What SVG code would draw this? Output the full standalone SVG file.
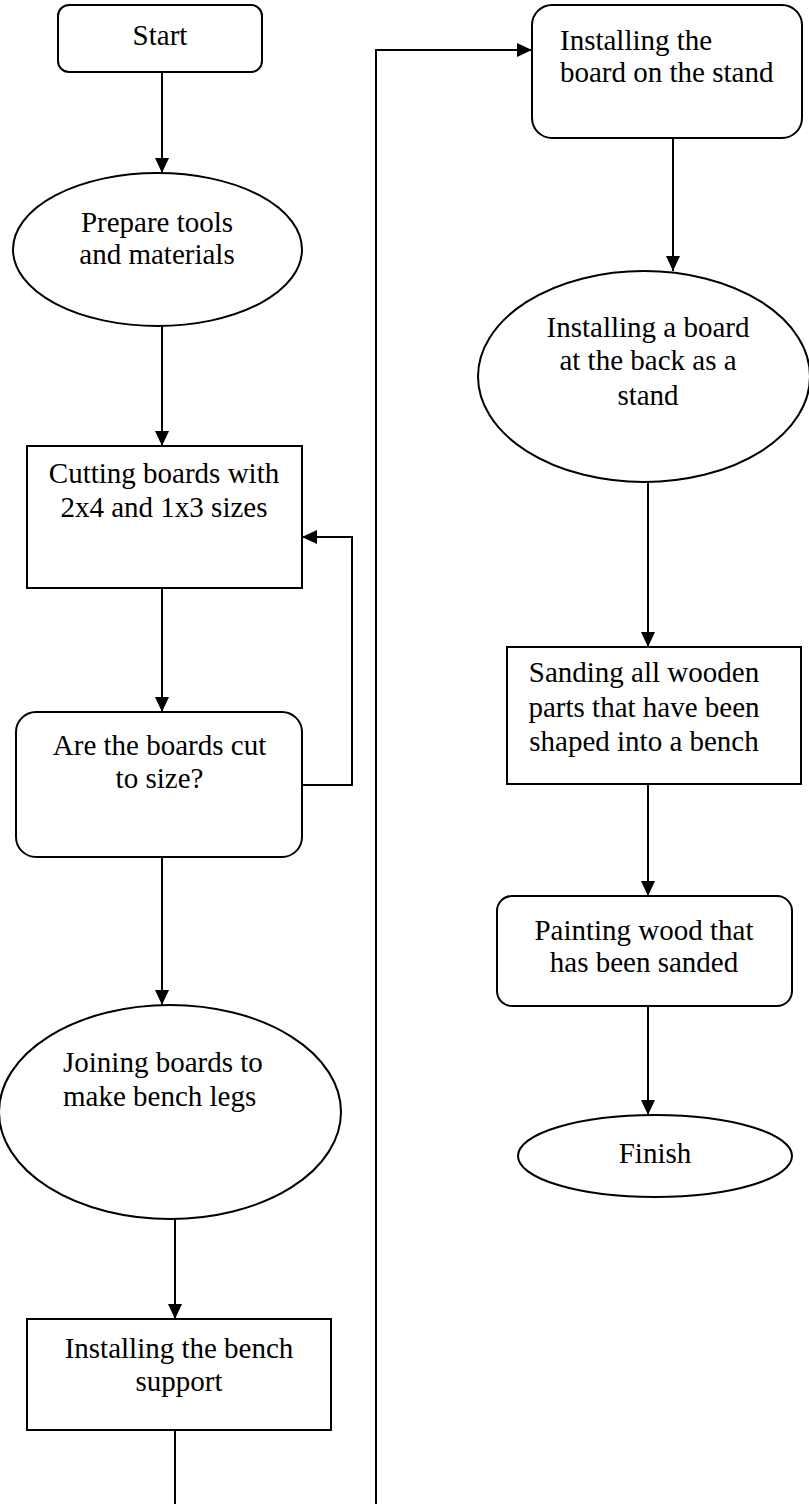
<svg xmlns="http://www.w3.org/2000/svg" width="809" height="1504" viewBox="0 0 809 1504">
<style>
.s{fill:#fff;stroke:#000;stroke-width:2}
.t{font-family:"Liberation Serif","Times New Roman",serif;font-size:29px;fill:#000;text-anchor:middle}
.l{text-anchor:start}
.c{fill:none;stroke:#000;stroke-width:2}
</style>
<defs>
<marker id="a" markerUnits="userSpaceOnUse" markerWidth="16" markerHeight="16" refX="15" refY="7" orient="auto">
<path d="M0,0 L15,7 L0,14 Z" fill="#000"/>
</marker>
</defs>
<rect width="809" height="1504" fill="#fff"/>
<g id="connectors">
<line class="c" x1="162" y1="72" x2="162" y2="173" marker-end="url(#a)"/>
<line class="c" x1="162" y1="326" x2="162" y2="446" marker-end="url(#a)"/>
<line class="c" x1="162" y1="588" x2="162" y2="712" marker-end="url(#a)"/>
<polyline class="c" points="302,785 352,785 352,537 302,537" marker-end="url(#a)"/>
<line class="c" x1="162" y1="857" x2="162" y2="1005" marker-end="url(#a)"/>
<line class="c" x1="175" y1="1219" x2="175" y2="1319" marker-end="url(#a)"/>
<line class="c" x1="175" y1="1430" x2="175" y2="1504"/>
<polyline class="c" points="376,1504 376,50 532,50" marker-end="url(#a)"/>
<line class="c" x1="673" y1="138" x2="673" y2="271" marker-end="url(#a)"/>
<line class="c" x1="648" y1="482" x2="648" y2="647" marker-end="url(#a)"/>
<line class="c" x1="648" y1="784" x2="648" y2="896" marker-end="url(#a)"/>
<line class="c" x1="648" y1="1006" x2="648" y2="1115" marker-end="url(#a)"/>
</g>
<g id="start">
<rect class="s" x="58" y="5" width="204" height="67" rx="11"/>
<text class="t" x="160" y="45">Start</text>
</g>
<g id="prepare">
<ellipse class="s" cx="157.5" cy="249.5" rx="144.5" ry="76.5"/>
<text class="t" x="157" y="232">Prepare tools</text>
<text class="t" x="157" y="264">and materials</text>
</g>
<g id="cutting">
<rect class="s" x="27" y="446" width="275" height="142"/>
<text class="t" x="164" y="483">Cutting boards with</text>
<text class="t" x="164" y="517">2x4 and 1x3 sizes</text>
</g>
<g id="decision">
<rect class="s" x="16" y="712" width="286" height="145" rx="20"/>
<text class="t" x="159.5" y="755">Are the boards cut</text>
<text class="t" x="159.5" y="788">to size?</text>
</g>
<g id="joining">
<ellipse class="s" cx="170" cy="1112" rx="171" ry="107"/>
<text class="t l" x="63" y="1072">Joining boards to</text>
<text class="t l" x="63" y="1106">make bench legs</text>
</g>
<g id="support">
<rect class="s" x="27" y="1319" width="304" height="111"/>
<text class="t" x="179" y="1358">Installing the bench</text>
<text class="t" x="179" y="1391">support</text>
</g>
<g id="board-stand">
<rect class="s" x="532" y="5" width="270" height="133" rx="20"/>
<text class="t l" x="560" y="50">Installing the</text>
<text class="t l" x="560" y="82">board on the stand</text>
</g>
<g id="back-board">
<ellipse class="s" cx="644" cy="376.5" rx="166" ry="105.5"/>
<text class="t" x="648" y="337">Installing a board</text>
<text class="t" x="648" y="370">at the back as a</text>
<text class="t" x="648" y="405">stand</text>
</g>
<g id="sanding">
<rect class="s" x="507" y="647" width="294" height="137"/>
<text class="t" x="644" y="682">Sanding all wooden</text>
<text class="t" x="644" y="717">parts that have been</text>
<text class="t" x="644" y="751">shaped into a bench</text>
</g>
<g id="painting">
<rect class="s" x="497" y="896" width="295" height="110" rx="15"/>
<text class="t" x="644" y="940">Painting wood that</text>
<text class="t" x="644" y="972">has been sanded</text>
</g>
<g id="finish">
<ellipse class="s" cx="655" cy="1156" rx="137" ry="41"/>
<text class="t" x="655" y="1163">Finish</text>
</g>
</svg>
